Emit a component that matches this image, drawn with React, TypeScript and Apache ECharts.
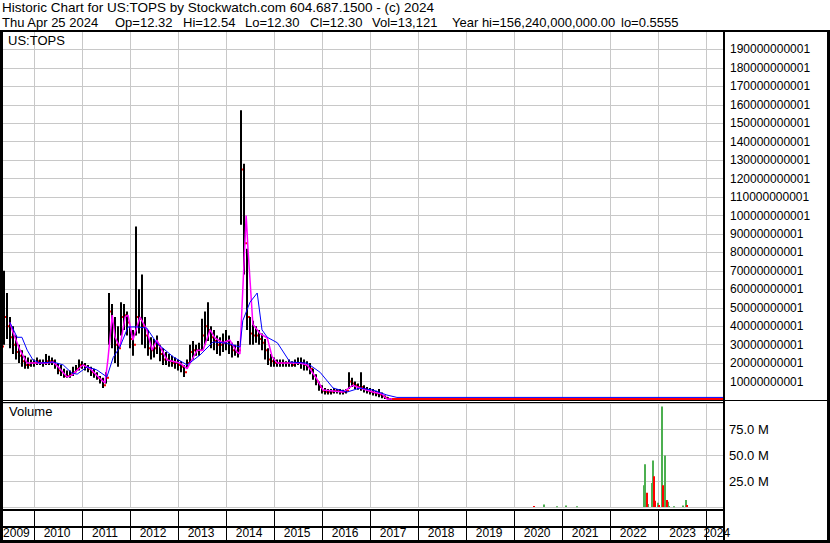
import React, { useEffect, useRef } from 'react';
import * as echarts from 'echarts';

const FONT = '"Liberation Sans", Arial, sans-serif';

const titleLine1 = 'Historic Chart for US:TOPS by Stockwatch.com 604.687.1500 - (c) 2024';
const titleLine2Parts = ['Thu Apr 25 2024', 'Op=12.32', 'Hi=12.54', 'Lo=12.30', 'Cl=12.30', 'Vol=13,121', 'Year hi=156,240,000,000.00', 'lo=0.5555'];
const priceLabel = 'US:TOPS';
const volumeLabel = 'Volume';

// time axis (decimal years)
const axisStart = 2009.346;
const axisEnd = 2024.34;
const yearBoundaries = [2010, 2011, 2012, 2013, 2014, 2015, 2016, 2017, 2018, 2019, 2020, 2021, 2022, 2023, 2024];
const yearLabels = ['2009', '2010', '2011', '2012', '2013', '2014', '2015', '2016', '2017', '2018', '2019', '2020', '2021', '2022', '2023', '2024'];
const yearLabelPos = [2009.625, 2010.47, 2011.47, 2012.47, 2013.47, 2014.47, 2015.47, 2016.47, 2017.47, 2018.47, 2019.47, 2020.47, 2021.47, 2022.47, 2023.5, 2024.21];

// price bars (billions), one bar every ~3 weeks
const barStart = 2009.305;
const barStep = 0.0625;
const barHigh = [
  32, 70, 58, 45, 40, 35, 30, 27, 24, 23,
  22, 22, 23, 22, 22, 25, 24, 23, 22, 20,
  19, 17, 16, 16, 18, 19, 22, 21, 20, 19,
  18, 17, 15, 13, 12, 15, 58, 52, 45, 40,
  53, 52, 48, 40, 38, 94, 60, 68, 45, 38,
  34, 33, 35, 30, 28, 26, 25, 24, 23, 22,
  21, 19, 22, 30, 32, 30, 31, 44, 48, 53,
  40, 38, 35, 34, 36, 38, 35, 31, 30, 32,
  157, 128, 82, 45, 43, 40, 38, 36, 33, 28,
  25, 23, 22, 22, 22, 21, 22, 21, 22, 23,
  23, 22, 21, 20, 17, 14, 10, 8, 6.5, 6,
  6, 6.5, 6, 6, 5.5, 6, 15, 12, 10, 9,
  15, 8, 7, 6.5, 6, 5, 6, 4, 2.5, 1.5,
  0.8, 0.5, 0.3,
];
const barLow = [
  27, 30, 33, 28, 25, 22, 20, 18, 17, 17,
  18, 18, 19, 19, 18, 19, 19, 19, 17, 14,
  13, 12, 12, 12, 13, 15, 16, 17, 16, 15,
  13, 12, 11, 9, 6.5, 9, 30, 28, 20, 18,
  35, 38, 35, 28, 24, 35, 36, 30, 28, 24,
  22, 23, 25, 21, 19, 19, 18, 18, 17, 16,
  15, 12.5, 17, 20, 22, 24, 24, 27, 30, 32,
  28, 27, 25, 24, 26, 27, 25, 23, 24, 23,
  95, 68, 38, 30, 30, 31, 30, 27, 22, 19,
  18, 18, 18, 18, 18, 18, 18, 18, 18, 19,
  17, 16, 16, 14, 11, 8, 5, 3.5, 3, 3,
  3, 3.5, 3.5, 3, 3, 3.5, 6, 7, 6, 5.5,
  5, 4, 3.5, 3, 2.5, 2, 1.5, 1, 0.5, 0.3,
  0.2, 0.1, 0.05,
];
const barClose = [
  29, 45, 40, 34, 30, 26, 24, 21, 19, 19,
  20, 20, 21, 20, 20, 21, 21, 21, 19, 16,
  15, 13, 13, 14, 15, 17, 19, 19, 18, 17,
  15, 14, 12, 11, 8, 12, 48, 40, 30, 28,
  45, 46, 42, 33, 30, 45, 44, 40, 35, 28,
  27, 28, 30, 25, 22, 22, 21, 20, 20, 19,
  18, 15, 20, 26, 27, 27, 27, 35, 40, 38,
  34, 32, 30, 30, 31, 32, 30, 27, 26, 27,
  125, 85, 45, 36, 35, 35, 33, 31, 27, 22,
  21, 20, 20, 20, 20, 20, 20, 19, 20, 20,
  20, 19, 18, 17, 13, 10, 7, 5, 4.5, 4.5,
  4.5, 5, 5, 4.5, 4.5, 5, 10, 9, 8, 7,
  7, 6, 5, 4.5, 4, 3.5, 3, 2, 1.2, 0.6,
  0.4, 0.2, 0.1,
];

// flat close line after 2017 (billions)
const tailDates = [2017.45, 2024.34];
const tailClose = [0.5, 0.5];

// short moving average (magenta), billions
const pinkMaDates = [
  2009.49, 2009.55, 2009.70, 2009.85, 2009.97, 2010.26, 2010.39, 2010.53, 2010.68, 2010.78,
  2011.01, 2011.16, 2011.37, 2011.47, 2011.53, 2011.62, 2011.68, 2011.78, 2011.89, 2011.95,
  2012.05, 2012.20, 2012.34, 2012.45, 2012.55, 2012.76, 2013.03, 2013.18, 2013.39, 2013.51,
  2013.66, 2013.76, 2013.93, 2014.07, 2014.22, 2014.28, 2014.34, 2014.41, 2014.45, 2014.55,
  2014.70, 2014.85, 2014.95, 2015.06, 2015.53, 2015.68, 2015.88, 2016.01, 2016.43, 2016.63,
  2016.78, 2017.05, 2017.24, 2017.34, 2024.34,
];
const pinkMaValues = [
  42, 37, 27, 20, 20, 20, 20.6, 17, 12.5, 13.5,
  19, 17, 11.5, 9.2, 21.7, 46, 34, 28.7, 45, 46,
  32.5, 45, 38, 27, 32.5, 21.7, 20, 17, 27, 27,
  38, 33.6, 31, 32.5, 26, 25, 60, 100, 81, 41,
  36, 33.6, 23.5, 20, 20, 19, 11.5, 5.4, 4.3, 8,
  6.5, 4.3, 3.3, 0.5, 0.5,
];

// long moving average (blue), billions
const blueMaDates = [
  2009.49, 2009.64, 2009.74, 2009.85, 2009.97, 2010.12, 2010.39, 2010.60, 2010.78, 2010.89,
  2011.10, 2011.30, 2011.51, 2011.64, 2011.78, 2011.95, 2012.14, 2012.34, 2012.55, 2012.89,
  2013.18, 2013.45, 2013.72, 2014.01, 2014.28, 2014.34, 2014.49, 2014.64, 2014.74, 2014.85,
  2015.06, 2015.32, 2015.68, 2015.95, 2016.22, 2016.51, 2016.78, 2017.05, 2017.34, 2017.55,
  2024.34,
];
const blueMaValues = [
  42, 34, 34, 27, 21.7, 20, 20.6, 19, 14.6, 14,
  18, 16.3, 12.5, 23, 28.7, 39.6, 39.6, 39, 30.8, 23.4,
  19, 24.4, 31.5, 30.8, 28.7, 43, 53, 58, 38, 34,
  31, 20.6, 20, 15, 6.5, 4.3, 6.5, 5.4, 2.7, 1.4,
  1.4,
];

// volume (millions)
const volUpDates = [2020.61, 2020.89, 2021.08, 2021.30, 2022.70, 2022.72, 2022.77, 2022.87, 2022.89, 2022.98, 2023.07, 2023.11, 2023.14, 2023.19, 2023.21, 2023.31, 2023.51, 2023.56];
const volUpValues = [2.5, 0.8, 1.5, 0.8, 21, 41, 3, 23, 44.7, 4, 96.6, 16, 49.5, 5, 1, 0.7, 1.5, 6.7];
const volDownDates = [2020.40, 2022.75, 2022.90, 2022.92, 2023.01, 2023.09, 2023.17, 2023.60];
const volDownValues = [1, 13.6, 29.6, 6, 2, 21, 6.7, 2];

const B = 1e9;
const M = 1e6;
const GRID_COLOR = '#c8c8c8';

export default function App() {
  const ref = useRef<HTMLDivElement>(null);

  useEffect(() => {
    if (!ref.current) return;
    const chart = echarts.init(ref.current, null, { renderer: 'svg' });

    const barData = barHigh.map((h, i) => [barStart + i * barStep, h * B, barLow[i] * B, barClose[i] * B]);
    const pinkData = pinkMaDates.map((d, i) => [d, pinkMaValues[i] * B]);
    const blueData = blueMaDates.map((d, i) => [d, blueMaValues[i] * B]);
    const tailData = tailDates.map((d, i) => [d, tailClose[i] * B]);
    const upData = volUpDates.map((d, i) => [d, volUpValues[i] * M]);
    const downData = volDownDates.map((d, i) => [d, volDownValues[i] * M]);

    const volRender = (color: string) => (params: any, api: any) => {
      const p = api.coord([api.value(0), api.value(1)]);
      const p0 = api.coord([api.value(0), 0]);
      return {
        type: 'rect',
        shape: { x: Math.round(p[0]) - 1, y: p[1], width: 2, height: Math.max(1, p0[1] - p[1]) },
        style: { fill: color },
      };
    };

    const hiddenX = (gridIndex: number) => ({
      type: 'value',
      gridIndex,
      min: axisStart,
      max: axisEnd,
      axisLine: { show: false },
      axisTick: { show: false, customValues: yearBoundaries },
      axisLabel: { show: false },
      splitLine: { show: true, lineStyle: { color: GRID_COLOR, width: 1 } },
    });

    const rect = (x: number, y: number, w: number, h: number) => ({
      type: 'rect',
      z: 100,
      silent: true,
      shape: { x, y, width: w, height: h },
      style: { fill: '#000' },
    });
    const text = (x: number, y: number, t: string, size: number) => ({
      type: 'text',
      z: 100,
      x,
      y,
      style: { text: t, fill: '#000', font: `${size}px ${FONT}`, verticalAlign: 'top', align: 'left' },
    });

    const line2X = [2, 115, 183, 245, 310, 372, 452, 621];

    const option: any = {
      animation: false,
      backgroundColor: '#ffffff',
      grid: [
        { left: 3, width: 720, top: 31, height: 369, containLabel: false, outerBoundsMode: 'none' },
        { left: 3, width: 720, top: 403, height: 104, containLabel: false, outerBoundsMode: 'none' },
        { left: 3, width: 720, top: 510, height: 17, containLabel: false, outerBoundsMode: 'none' },
      ],
      xAxis: [
        hiddenX(0),
        hiddenX(1),
        {
          type: 'value',
          gridIndex: 2,
          min: axisStart,
          max: axisEnd,
          position: 'bottom',
          axisLine: { show: false },
          axisTick: { show: true, inside: false, length: 14, customValues: yearBoundaries, lineStyle: { color: '#000', width: 1 } },
          axisLabel: {
            show: true,
            customValues: yearLabelPos,
            margin: 0,
            color: '#000',
            fontFamily: FONT,
            fontSize: 12,
            formatter: (v: number) => yearLabels[Math.floor(v + 1e-6) - 2009] ?? '',
          },
          splitLine: { show: true, lineStyle: { color: '#000', width: 1 } },
        },
      ],
      yAxis: [
        {
          type: 'value',
          gridIndex: 0,
          position: 'right',
          min: 0,
          max: 2e11,
          interval: 1e10,
          axisLine: { show: false },
          axisTick: { show: false },
          splitLine: { show: true, lineStyle: { color: GRID_COLOR, width: 1 } },
          axisLabel: {
            margin: 7,
            color: '#000',
            fontFamily: FONT,
            fontSize: 12,
            formatter: (v: number) => (v <= 0 || v >= 2e11 ? '' : String(Math.round(v) + 1)),
          },
        },
        {
          type: 'value',
          gridIndex: 1,
          position: 'right',
          min: 0,
          max: 1e8,
          interval: 2.5e7,
          axisLine: { show: false },
          axisTick: { show: false },
          splitLine: { show: true, lineStyle: { color: GRID_COLOR, width: 1 } },
          axisLabel: {
            margin: 6,
            color: '#000',
            fontFamily: FONT,
            fontSize: 13,
            formatter: (v: number) => (v <= 0 || v >= 1e8 ? '' : (v / 1e6).toFixed(1) + ' M'),
          },
        },
        { type: 'value', gridIndex: 2, show: false, min: 0, max: 1 },
      ],
      series: [
        {
          type: 'custom',
          name: 'Price',
          xAxisIndex: 0,
          yAxisIndex: 0,
          data: barData,
          encode: { x: 0, y: [1, 2, 3] },
          renderItem: (params: any, api: any) => {
            const x = api.value(0);
            const top = api.coord([x, api.value(1)]);
            const bot = api.coord([x, api.value(2)]);
            const cl = api.coord([x, api.value(3)]);
            const px = Math.round(top[0]);
            return {
              type: 'group',
              children: [
                { type: 'rect', shape: { x: px - 1, y: top[1], width: 2, height: Math.max(1, bot[1] - top[1]) }, style: { fill: '#000' } },
                { type: 'rect', shape: { x: px + 1, y: cl[1] - 1, width: 2, height: 2 }, style: { fill: '#ff0000' } },
              ],
            };
          },
        },
        {
          type: 'line',
          name: 'MA short',
          xAxisIndex: 0,
          yAxisIndex: 0,
          data: pinkData,
          showSymbol: false,
          lineStyle: { color: '#ff00ff', width: 1.5 },
        },
        {
          type: 'line',
          name: 'CloseTail',
          xAxisIndex: 0,
          yAxisIndex: 0,
          data: tailData,
          showSymbol: false,
          lineStyle: { color: '#ff0000', width: 2 },
        },
        {
          type: 'line',
          name: 'MA long',
          xAxisIndex: 0,
          yAxisIndex: 0,
          data: blueData,
          showSymbol: false,
          lineStyle: { color: '#0000ff', width: 1 },
        },
        {
          type: 'custom',
          name: 'Volume up',
          xAxisIndex: 1,
          yAxisIndex: 1,
          data: upData,
          encode: { x: 0, y: 1 },
          renderItem: volRender('#4caf50'),
        },
        {
          type: 'custom',
          name: 'Volume down',
          xAxisIndex: 1,
          yAxisIndex: 1,
          data: downData,
          encode: { x: 0, y: 1 },
          renderItem: volRender('#ff0000'),
        },
      ],
      graphic: {
        elements: [
          text(2, 0, titleLine1, 13.5),
          ...titleLine2Parts.map((p, i) => text(line2X[i], 15.5, p, 13)),
          text(8, 34, priceLabel, 13),
          text(9, 405, volumeLabel, 13),
          // frame
          rect(0, 30, 830, 2),
          rect(0, 30, 3, 513),
          rect(827, 30, 3, 513),
          rect(0, 540, 830, 3),
          rect(723, 30, 2, 513),
          rect(0, 400, 830, 1),
          rect(0, 402, 724, 1),
          rect(0, 509, 724, 2),
          rect(0, 526, 724, 2),
        ],
      },
    };

    chart.setOption(option);
    return () => chart.dispose();
  }, []);

  return (
    <div
      ref={ref}
      style={{ position: 'absolute', left: 0, top: 0, width: 830, height: 543, background: '#fff' }}
    />
  );
}
